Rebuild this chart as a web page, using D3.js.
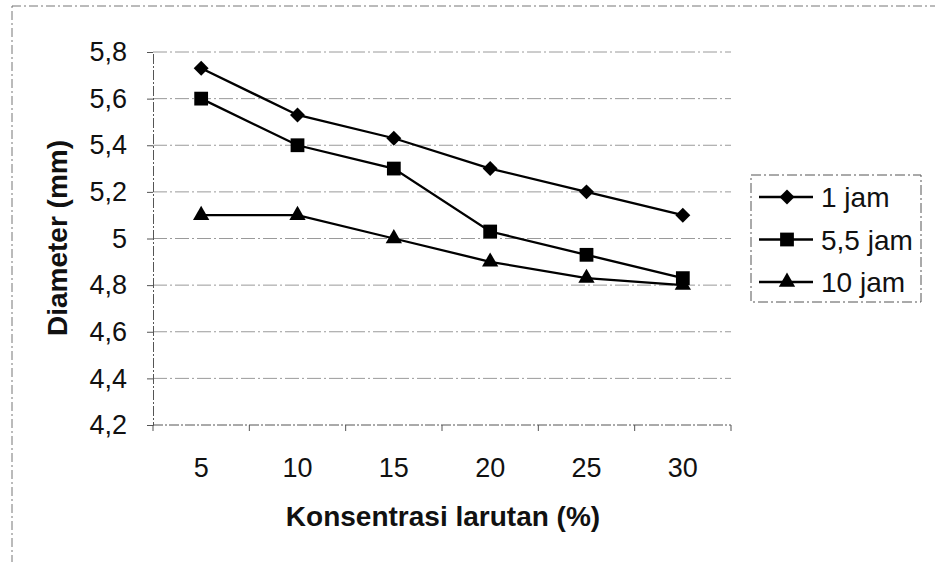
<!DOCTYPE html>
<html>
<head>
<meta charset="utf-8">
<script src="https://cdn.jsdelivr.net/npm/d3@7"></script>
<style>
  body { margin: 0; background: #fff; }
  text { font-family: "Liberation Sans", Arial, sans-serif; fill: #111; }
</style>
</head>
<body>
<div id="chart-container"></div>
<script>
// Data
const categories = ["5", "10", "15", "20", "25", "30"];
const seriesNames = ["1 jam", "5,5 jam", "10 jam"];
const jam1 = [5.73, 5.53, 5.43, 5.30, 5.20, 5.10];
const jam55 = [5.60, 5.40, 5.30, 5.03, 4.93, 4.83];
const jam10 = [5.10, 5.10, 5.00, 4.90, 4.83, 4.80];
const yTicks = [4.2, 4.4, 4.6, 4.8, 5.0, 5.2, 5.4, 5.6, 5.8];

// marker for each series: diamond is a square turned by 45 degrees
const series = [
  {name: seriesNames[0], values: jam1, symbol: d3.symbolSquare, size: 112, rotate: 45},
  {name: seriesNames[1], values: jam55, symbol: d3.symbolSquare, size: 190, rotate: 0},
  {name: seriesNames[2], values: jam10, symbol: d3.symbolTriangle, size: 115, rotate: 0}
];

const W = 935, H = 562;
const plot = {left: 153, right: 731, top: 52, bottom: 425};

const svg = d3.select("#chart-container")
  .append("svg")
    .attr("width", W)
    .attr("height", H);

// outer chart border (scanned, dashed)
svg.append("rect")
  .attr("x", 12).attr("y", 6)
  .attr("width", W + 20).attr("height", H + 20)
  .attr("fill", "none")
  .attr("stroke", "#777")
  .attr("stroke-width", 1)
  .attr("stroke-dasharray", "9,3,2,3");

// scales
const x = d3.scaleBand()
  .domain(categories)
  .range([plot.left, plot.right])
  .padding(0);

const y = d3.scaleLinear()
  .domain([4.2, 5.8])
  .range([plot.bottom, plot.top]);

const fmt = d => d3.format("~g")(d).replace(".", ",");

// horizontal gridlines
svg.selectAll(".yGrid")
  .data(yTicks.slice(1))
  .join("line")
  .attr("class", "yGrid")
  .attr("x1", plot.left)
  .attr("x2", plot.right)
  .attr("y1", d => y(d))
  .attr("y2", d => y(d))
  .attr("stroke", "#9a9a9a")
  .attr("stroke-width", 1)
  .attr("stroke-dasharray", "14,3,2,3");

// y axis
svg.append("g")
  .attr("transform", `translate(${plot.left},0)`)
  .call(d3.axisLeft(y)
    .tickValues(yTicks)
    .tickFormat(fmt)
    .tickSize(6)
    .tickPadding(20))
  .call(g => g.select(".domain").attr("stroke", "#555").attr("stroke-dasharray", "10,2,2,2"))
  .call(g => g.selectAll(".tick line").attr("stroke", "#555"))
  .selectAll(".tick text")
    .style("font-size", "27px")
    .attr("fill", "#111");

// x axis, ticks on category boundaries
const xAxis = svg.append("g")
  .attr("transform", `translate(0,${plot.bottom})`);
xAxis.append("line")
  .attr("x1", plot.left).attr("x2", plot.right)
  .attr("stroke", "#555")
  .attr("stroke-dasharray", "10,2,2,2");
xAxis.selectAll(".bTick")
  .data(categories.concat([null]))
  .join("line")
  .attr("class", "bTick")
  .attr("x1", (d, i) => plot.left + i * x.bandwidth())
  .attr("x2", (d, i) => plot.left + i * x.bandwidth())
  .attr("y1", 0).attr("y2", 6)
  .attr("stroke", "#555");
xAxis.selectAll(".xLabel")
  .data(categories)
  .join("text")
  .attr("class", "xLabel")
  .attr("x", d => x(d) + x.bandwidth() / 2)
  .attr("y", 52)
  .attr("text-anchor", "middle")
  .style("font-size", "27px")
  .text(d => d);

// axis titles
svg.append("text")
  .attr("x", 443)
  .attr("y", 526)
  .attr("text-anchor", "middle")
  .style("font-size", "28px")
  .style("font-weight", "bold")
  .text("Konsentrasi larutan (%)");

svg.append("text")
  .attr("transform", "translate(67,238) rotate(-90)")
  .attr("text-anchor", "middle")
  .style("font-size", "28px")
  .style("font-weight", "bold")
  .text("Diameter (mm)");

// lines and markers
const line = d3.line()
  .x((d, i) => x(categories[i]) + x.bandwidth() / 2)
  .y(d => y(d));

series.forEach(s => {
  svg.append("path")
    .datum(s.values)
    .attr("fill", "none")
    .attr("stroke", "#000")
    .attr("stroke-width", 2.3)
    .attr("d", line);

  svg.selectAll(null)
    .data(s.values)
    .join("path")
    .attr("transform", (d, i) => `translate(${x(categories[i]) + x.bandwidth() / 2},${y(d)}) rotate(${s.rotate})`)
    .attr("d", d3.symbol().type(s.symbol).size(s.size))
    .attr("fill", "#000");
});

// legend
const legend = svg.append("g").attr("transform", "translate(751,175)");
legend.append("rect")
  .attr("width", 170).attr("height", 127)
  .attr("fill", "#fff")
  .attr("stroke", "#555")
  .attr("stroke-dasharray", "10,3,2,3");

const ly = d3.scalePoint()
  .domain(seriesNames)
  .range([22, 107]);

series.forEach(s => {
  const g = legend.append("g").attr("transform", `translate(0,${ly(s.name)})`);
  g.append("line")
    .attr("x1", 8).attr("x2", 62)
    .attr("stroke", "#000").attr("stroke-width", 2.3);
  g.append("path")
    .attr("transform", `translate(36,0) rotate(${s.rotate})`)
    .attr("d", d3.symbol().type(s.symbol).size(s.size))
    .attr("fill", "#000");
  g.append("text")
    .attr("x", 70)
    .attr("y", 10)
    .style("font-size", "28px")
    .text(s.name);
});
</script>
</body>
</html>
